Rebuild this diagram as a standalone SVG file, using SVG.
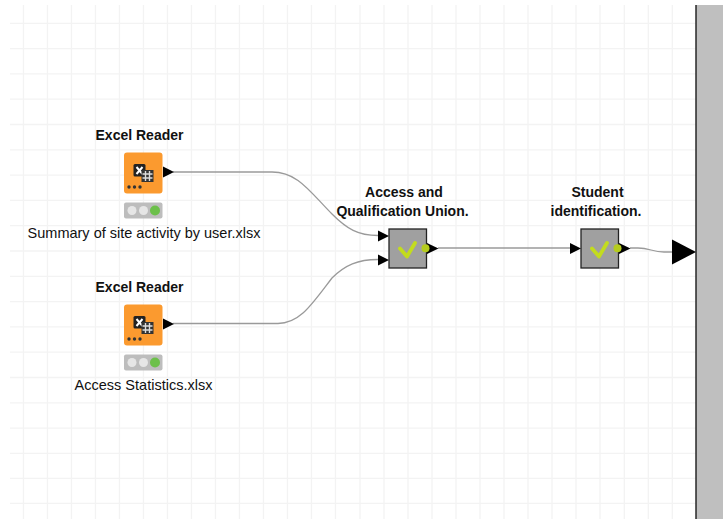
<svg xmlns="http://www.w3.org/2000/svg" width="723" height="519" viewBox="0 0 723 519">
<style>
.g{stroke:#f3f3f3;stroke-width:1.3;fill:none}
.c{stroke:#9a9a9a;stroke-width:1.3;fill:none}
.lb{font:bold 14px "Liberation Sans",Arial,sans-serif;fill:#111;text-anchor:middle}
.t{font:14.500px "Liberation Sans",Arial,sans-serif;fill:#111;text-anchor:middle}
.p{fill:#000}
</style>
<defs>
<g id="reader">
<rect x="0" y="0" width="38.500" height="41" rx="3" fill="#fb9a2f"/>
<rect x="9.500" y="11.500" width="12" height="12.500" rx="1.500" fill="#222"/>
<path d="M12.500 14.500l6 7M18.500 14.500l-6 7" stroke="#fff" stroke-width="2" fill="none"/>
<rect x="17.500" y="17.500" width="12" height="12" fill="#333"/>
<path d="M18.500 21.500h10M18.500 25.500h10M21.500 18.500v10M25.500 18.500v10" stroke="#ddd" stroke-width="1.400" fill="none"/>
<circle cx="5" cy="34.500" r="1.700" fill="#333"/><circle cx="10.500" cy="34.500" r="1.700" fill="#333"/><circle cx="16" cy="34.500" r="1.700" fill="#333"/>
<path d="M39 14l11 5.500-11 5.500z" class="p"/>
<rect x="0" y="50" width="38.500" height="16" rx="2" fill="#bdbdbd"/>
<circle cx="8" cy="58" r="4.500" fill="#e6e6e6"/><circle cx="19.500" cy="58" r="4.500" fill="#e6e6e6"/><circle cx="31" cy="58" r="5" fill="#6cc04a"/>
</g>
<g id="tick">
<path d="M38 14l11.500 5.500-11.500 5.500z" class="p"/>
<rect x="0" y="0" width="37.500" height="39" fill="#a0a0a0" stroke="#222" stroke-width="1.300"/>
<path d="M11 19.500l7 8 8-13.500" stroke="#c3dc1e" stroke-width="3.800" fill="none" stroke-linecap="round" stroke-linejoin="round"/>
<circle cx="36.500" cy="19.300" r="4" fill="#b5cc1d"/>
</g>
</defs>
<rect width="723" height="519" fill="#fff"/>
<g id="grid">
<path class="g" d="M23.500 5V519M47.500 5V519M71.500 5V519M95.500 5V519M119.500 5V519M143.500 5V519M167.500 5V519M191.500 5V519M215.500 5V519M239.500 5V519M263.500 5V519M287.500 5V519M311.500 5V519M335.500 5V519M360 5V519M384 5V519M408 5V519M432 5V519M456 5V519M480 5V519M504 5V519M528 5V519M552 5V519M576 5V519M600 5V519M624.300 5V519M648.300 5V519M672.300 5V519"/>
<path class="g" d="M10 23.300H696M10 48.600H696M10 73.900H696M10 99.200H696M10 124.500H696M10 149.800H696M10 175.100H696M10 200.400H696M10 225.700H696M10 251H696M10 276.300H696M10 301.600H696M10 326.900H696M10 352.200H696M10 377.500H696M10 402.800H696M10 428.100H696M10 453.300H696M10 478.300H696M10 503.300H696"/>
</g>
<rect id="panel" x="696" y="5" width="27" height="514" fill="#bfbfbf"/>
<path d="M696 5V519" stroke="#1a1a1a" stroke-width="1.400"/>
<g id="connectors">
<path class="c" d="M173 172H272C298 172 310 192 332 214C347 229 358 235.500 378 235.500"/>
<path class="c" d="M173 323.500H278C300 323.500 312 304 332 278C345 265 358 259.500 378 259.500"/>
<path class="c" d="M438 248H570"/>
<path class="c" d="M630 248H638C650 248 652 252 664 252H672"/>
</g>
<g id="n1" transform="translate(124 152.500)"><use href="#reader"/></g>
<text class="lb" x="139.500" y="140">Excel Reader</text>
<text class="t" x="144" y="238">Summary of site activity by user.xlsx</text>
<g id="n2" transform="translate(124 304.500)"><use href="#reader"/></g>
<text class="lb" x="139.500" y="292">Excel Reader</text>
<text class="t" x="143.500" y="390">Access Statistics.xlsx</text>
<g id="n3" transform="translate(389 229)"><use href="#tick"/>
<path d="M-11 1.500l11 5.500-11 5.500zM-11 25.500l11 5.500-11 5.500z" class="p"/></g>
<text class="lb" x="404" y="197">Access and</text>
<text class="lb" x="402.500" y="216">Qualification Union.</text>
<g id="n4" transform="translate(581 229)"><use href="#tick"/>
<path d="M-11 14l11 5.500-11 5.500z" class="p"/></g>
<text class="lb" x="597.500" y="197">Student</text>
<text class="lb" x="596" y="216">identification.</text>
<path id="out" d="M672 239.500l24 12.500-24 12.500z" fill="#000"/>
</svg>
